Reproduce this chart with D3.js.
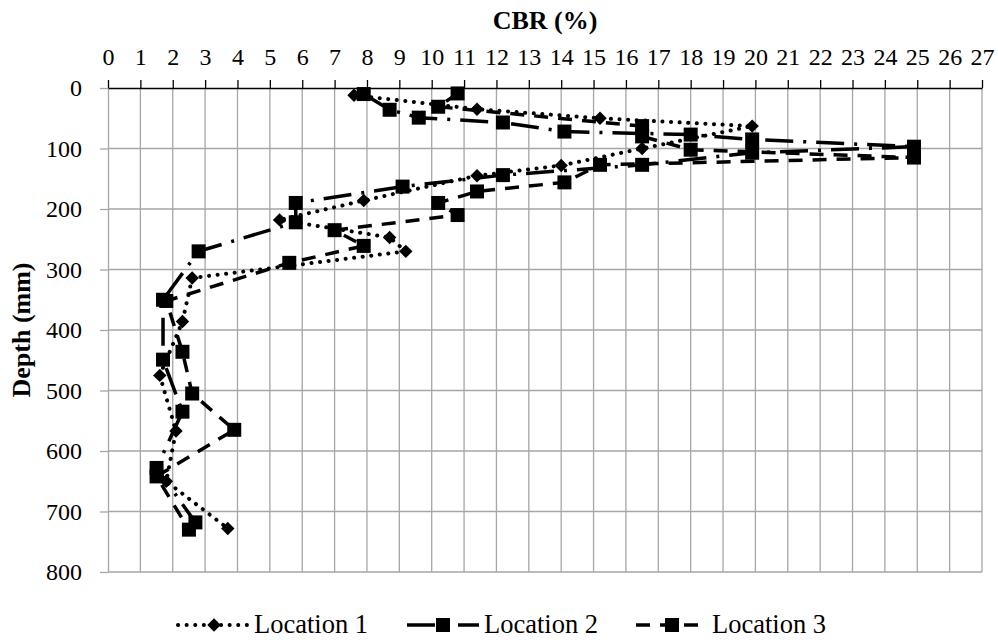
<!DOCTYPE html>
<html>
<head>
<meta charset="utf-8">
<script src="https://cdnjs.cloudflare.com/ajax/libs/d3/7.8.5/d3.min.js"></script>
<style>
  body { margin: 0; background: #fff; }
  svg text { font-family: "Liberation Serif", "Times New Roman", serif; fill: #000; }
</style>
</head>
<body>
<svg id="chart" width="998" height="642"></svg>
<script>
// CBR (%) readings vs depth (mm) for the three locations
var loc1Cbr   = [7.6, 11.4, 15.2, 19.9, 16.5, 14.0, 11.4, 7.9, 5.3, 8.7, 9.2, 2.6, 2.3, 1.6, 2.1, 1.8, 3.7];
var loc1Depth = [12, 35, 50, 63, 100, 128, 145, 186, 218, 247, 270, 314, 386, 475, 567, 650, 728];

var loc2Cbr   = [7.9, 8.7, 9.6, 12.2, 14.1, 18.0, 19.9, 24.9, 19.9, 16.5, 12.2, 9.1, 5.8, 5.8, 2.8, 1.7, 1.7, 2.3, 1.5, 2.7];
var loc2Depth = [10, 36, 49, 57, 72, 77, 85, 97, 107, 127, 144, 163, 190, 222, 270, 350, 449, 535, 628, 718];

var loc3Cbr   = [10.8, 10.2, 16.5, 16.5, 18.0, 24.9, 15.2, 14.1, 11.4, 10.2, 10.8, 7.0, 7.9, 5.6, 1.8, 2.3, 2.6, 3.9, 1.5, 2.5];
var loc3Depth = [9, 31, 63, 80, 102, 115, 127, 156, 171, 190, 210, 235, 261, 289, 352, 436, 505, 565, 642, 730];

var xTicks = d3.range(0, 28);
var yTicks = d3.range(0, 900, 100);
var names = ["Location 1", "Location 2", "Location 3"];

var svg = d3.select("#chart");
var plotL = 108, plotR = 982, plotT = 88, plotB = 572;

var x = d3.scaleLinear().domain([0, 27]).range([plotL, plotR]);
var y = d3.scaleLinear().domain([0, 800]).range([plotT, plotB]);

var fontSize = 24;
var gridCol = "#a6a6a6";

// gridlines
svg.append("g").selectAll("line").data(xTicks.slice(1)).enter().append("line")
  .attr("x1", function(d) { return x(d); }).attr("x2", function(d) { return x(d); })
  .attr("y1", plotT).attr("y2", plotB)
  .attr("stroke", gridCol).attr("stroke-width", 1.3);
svg.append("g").selectAll("line").data(yTicks.slice(1)).enter().append("line")
  .attr("x1", plotL).attr("x2", plotR)
  .attr("y1", function(d) { return y(d); }).attr("y2", function(d) { return y(d); })
  .attr("stroke", gridCol).attr("stroke-width", 1.3);

// left axis (grey)
var yAxis = svg.append("g")
  .attr("transform", "translate(" + plotL + ",0)")
  .call(d3.axisLeft(y).tickValues(yTicks).tickSize(8).tickSizeOuter(0).tickPadding(18));
yAxis.select(".domain").attr("stroke", gridCol).attr("stroke-width", 1.3);
yAxis.selectAll(".tick line").attr("stroke", gridCol).attr("stroke-width", 1.3);
yAxis.selectAll(".tick text")
  .style("font-family", "Liberation Serif").style("font-size", fontSize + "px").attr("fill", "#000");

// top axis (black)
var xAxis = svg.append("g")
  .attr("transform", "translate(0," + plotT + ")")
  .call(d3.axisTop(x).tickValues(xTicks).tickSize(8).tickSizeOuter(0).tickPadding(15));
xAxis.select(".domain").attr("stroke", "#000").attr("stroke-width", 1.3);
xAxis.selectAll(".tick line").attr("stroke", "#000").attr("stroke-width", 1.3);
xAxis.selectAll(".tick text")
  .style("font-family", "Liberation Serif").style("font-size", fontSize + "px").attr("fill", "#000");

// axis titles
svg.append("text")
  .attr("x", (plotL + plotR) / 2).attr("y", 29)
  .attr("text-anchor", "middle")
  .style("font-size", "26px").style("font-weight", "bold")
  .text("CBR (%)");

svg.append("text")
  .attr("transform", "translate(30," + ((plotT + plotB) / 2) + ") rotate(-90)")
  .attr("text-anchor", "middle")
  .style("font-size", "26px").style("font-weight", "bold")
  .text("Depth (mm)");

// series
var series = [
  { name: names[0], cbr: loc1Cbr, depth: loc1Depth, dash: "0.1,8.5", cap: "round", width: 4, marker: "diamond" },
  { name: names[1], cbr: loc2Cbr, depth: loc2Depth, dash: "28,10,3,10", cap: "butt", width: 3.5, marker: "square" },
  { name: names[2], cbr: loc3Cbr, depth: loc3Depth, dash: "14,10", cap: "butt", width: 3.5, marker: "square" }
];

var line = d3.line()
  .x(function(d) { return x(d[0]); })
  .y(function(d) { return y(d[1]); });

var diamond = d3.symbol().type(d3.symbolDiamond2).size(115);
var square = d3.symbol().type(d3.symbolSquare).size(196);

series.forEach(function(s) {
  var pts = s.cbr.map(function(c, i) { return [c, s.depth[i]]; });
  svg.append("path")
    .datum(pts)
    .attr("d", line)
    .attr("fill", "none")
    .attr("stroke", "#000")
    .attr("stroke-width", s.width)
    .attr("stroke-linecap", s.cap)
    .attr("stroke-dasharray", s.dash);
  svg.append("g").selectAll("path").data(pts).enter().append("path")
    .attr("transform", function(d) { return "translate(" + x(d[0]) + "," + y(d[1]) + ")"; })
    .attr("d", s.marker === "diamond" ? diamond : square)
    .attr("fill", "#000");
});

// legend
var legendY = 625;
var legendItems = [
  { s: series[0], x0: 178, x1: 250, tx: 254 },
  { s: series[1], x0: 407, x1: 479, tx: 484 },
  { s: series[2], x0: 636, x1: 708, tx: 712 }
];
legendItems.forEach(function(it) {
  svg.append("line")
    .attr("x1", it.x0).attr("x2", it.x1).attr("y1", legendY).attr("y2", legendY)
    .attr("stroke", "#000").attr("stroke-width", it.s.width)
    .attr("stroke-linecap", it.s.cap)
    .attr("stroke-dasharray", it.s.dash);
  svg.append("path")
    .attr("transform", "translate(" + ((it.x0 + it.x1) / 2) + "," + legendY + ")")
    .attr("d", it.s.marker === "diamond" ? diamond : square)
    .attr("fill", "#000");
  svg.append("text")
    .attr("x", it.tx).attr("y", legendY + 8)
    .style("font-size", "26.5px")
    .text(it.s.name);
});
</script>
</body>
</html>
